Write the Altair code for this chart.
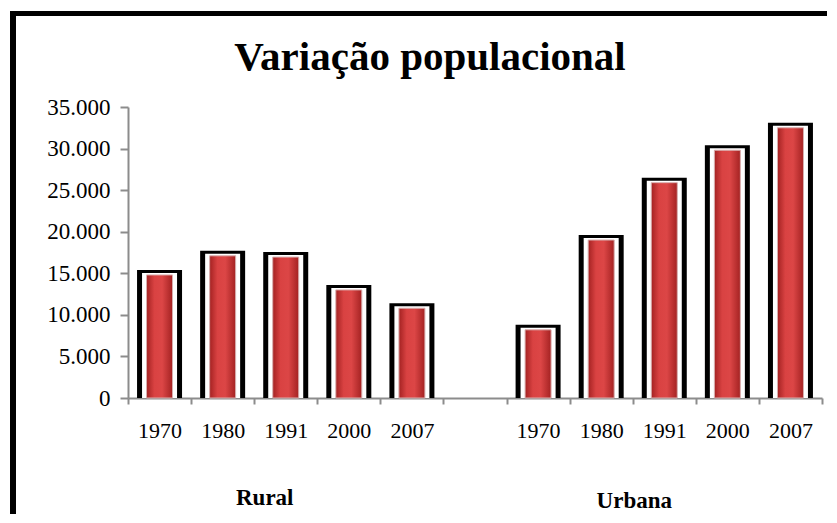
import altair as alt
import pandas as pd

# ---- data ----
years = ["1970", "1980", "1991", "2000", "2007"]
rural = [14800, 17100, 16950, 13000, 10800]
urbana = [8200, 19000, 25900, 29800, 32500]
groups = ["Rural", "Urbana"]
title_text = "Variação populacional"
y_ticks = [0, 5000, 10000, 15000, 20000, 25000, 30000, 35000]

rows = []
for y, v in zip(years, rural):
    rows.append({"key": "R" + y, "value": v})
for y, v in zip(years, urbana):
    rows.append({"key": "U" + y, "value": v})
df = pd.DataFrame(rows)
domain = ["R" + y for y in years] + ["_"] + ["U" + y for y in years]

FONT = "Liberation Serif"
GRAY = "#8c8c8c"

xscale = alt.Scale(domain=domain, paddingInner=0, paddingOuter=0)
x_enc = alt.X(
    "key:N",
    scale=xscale,
    sort=domain,
    axis=alt.Axis(
        title=None,
        labelExpr="isString(datum.value) ? substring(datum.value, 1) : ''",
        tickBand="extent",
        domainColor=GRAY,
        tickColor=GRAY,
        domainWidth=2,
        tickWidth=2,
        tickSize=6,
        labelFont=FONT,
        labelFontSize=22,
        labelColor="black",
        labelPadding=16,
        labelAngle=0,
        labelOverlap=False,
    ),
)
y_enc = alt.Y(
    "value:Q",
    scale=alt.Scale(domain=[0, 35000], nice=False),
    axis=alt.Axis(
        title=None,
        values=y_ticks,
        labelExpr="datum.value == 0 ? '0' : (datum.value / 1000) + '.000'",
        grid=False,
        tickSize=8,
        labelPadding=10,
        domainColor=GRAY,
        tickColor=GRAY,
        domainWidth=2,
        tickWidth=2,
        labelFont=FONT,
        labelFontSize=23,
        labelColor="black",
    ),
)
y2_enc = alt.Y2(datum=0)

base = alt.Chart(df)
black_bars = base.mark_bar(color="black", size=45, yOffset=-5, y2Offset=0.01).encode(
    x=x_enc, y=y_enc, y2=y2_enc
)
white_bars = base.mark_bar(color="white", size=35, yOffset=-2, y2Offset=0.01).encode(
    x=x_enc, y=y_enc, y2=y2_enc
)
red_grad = alt.Gradient(
    gradient="linear",
    stops=[
        alt.GradientStop(color="#a42222", offset=0),
        alt.GradientStop(color="#d94242", offset=0.3),
        alt.GradientStop(color="#dc4646", offset=0.6),
        alt.GradientStop(color="#a42222", offset=1),
    ],
    x1=0, x2=1, y1=0, y2=0,
)
red_bars = base.mark_bar(color=red_grad, size=26, stroke="#d9b0b0", strokeWidth=1).encode(
    x=x_enc, y=y_enc, y2=y2_enc
)

title = alt.Chart(pd.DataFrame({"t": [title_text]})).mark_text(
    font=FONT, fontSize=41, fontWeight="bold", color="black", align="center", baseline="alphabetic"
).encode(text="t:N", x=alt.value(302), y=alt.value(-37))

grp_df = pd.DataFrame({"label": groups, "key": ["R1991", "U1991"]})
rural_lbl = alt.Chart(grp_df).transform_filter(alt.datum.label == "Rural").mark_text(
    font=FONT, fontSize=23, fontWeight="bold", color="black", baseline="alphabetic", dx=-21
).encode(x=x_enc, y=alt.value(398), text="label:N")
urb_lbl = alt.Chart(grp_df).transform_filter(alt.datum.label == "Urbana").mark_text(
    font=FONT, fontSize=23, fontWeight="bold", color="black", baseline="alphabetic", dx=-30
).encode(x=x_enc, y=alt.value(401), text="label:N")

one = pd.DataFrame({"a": [0]})
frame_left = alt.Chart(one).mark_rule(color="black", strokeWidth=6).encode(
    x=alt.value(-115), y=alt.value(-96), y2=alt.value(420)
)
frame_top = alt.Chart(one).mark_rule(color="black", strokeWidth=5).encode(
    y=alt.value(-93.5), x=alt.value(-118), x2=alt.value(720)
)

chart = alt.layer(
    frame_left, frame_top, black_bars, white_bars, red_bars, title, rural_lbl, urb_lbl
).properties(
    width=694,
    height=291,
    padding={"left": 120, "top": 99, "right": 5, "bottom": 116},
    autosize=alt.AutoSizeParams(type="none"),
).configure_view(stroke=None)

chart.save("out.html", embed_options={"renderer": "svg", "actions": False})
